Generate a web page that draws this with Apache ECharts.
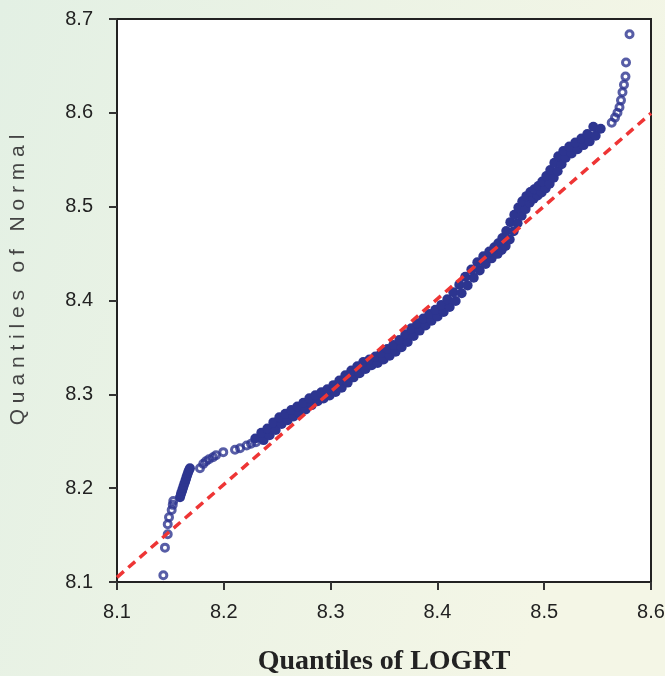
<!DOCTYPE html>
<html>
<head>
<meta charset="utf-8">
<script src="https://cdn.jsdelivr.net/npm/echarts@6/dist/echarts.min.js"></script>
<style>
html,body{margin:0;padding:0;}
#chart{width:665px;height:676px;}
</style>
</head>
<body>
<div id="chart"></div>
<script>
// ---- data ----
var xTicks = [8.1, 8.2, 8.3, 8.4, 8.5, 8.6];
var yTicks = [8.1, 8.2, 8.3, 8.4, 8.5, 8.6, 8.7];

var lowerTail = [
[8.1434,8.1072],[8.1449,8.1366],[8.1475,8.1509],[8.1475,8.1616],[8.1487,8.1690],[8.1512,8.1768],
[8.1522,8.1822],[8.1527,8.1864]
];

var lowerCluster = [
[8.1590,8.1904],[8.1599,8.1939],[8.1609,8.1971],[8.1618,8.2003],
[8.1627,8.2035],[8.1637,8.2067],[8.1646,8.2099],[8.1655,8.2131],[8.1665,8.2163],[8.1674,8.2190],
[8.1683,8.2213]
];

var lowerShoulder = [
[8.1777,8.2213],[8.1808,8.2259],[8.1833,8.2286],[8.1861,8.2309],[8.1899,8.2329],
[8.1927,8.2350],[8.1995,8.2384],[8.2105,8.2409],[8.2152,8.2425],[8.2214,8.2455],[8.2255,8.2473],
[8.2301,8.2489]
];

var centralBand = [
[8.2295,8.2530],[8.2373,8.2512],[8.2351,8.2591],[8.2429,8.2564],[8.2408,8.2636],[8.2486,8.2619],[8.2464,8.2701],[8.2542,8.2683],[8.2520,8.2756],[8.2598,8.2725],
[8.2576,8.2794],[8.2654,8.2764],[8.2632,8.2832],[8.2710,8.2800],[8.2688,8.2870],[8.2767,8.2839],[8.2745,8.2911],[8.2823,8.2885],[8.2801,8.2959],[8.2879,8.2927],
[8.2857,8.2991],[8.2935,8.2956],[8.2913,8.3021],[8.2991,8.2987],[8.2969,8.3053],[8.3047,8.3025],[8.3026,8.3098],[8.3104,8.3070],[8.3082,8.3147],[8.3160,8.3125],
[8.3138,8.3204],[8.3216,8.3181],[8.3194,8.3253],[8.3272,8.3226],[8.3250,8.3298],[8.3328,8.3271],[8.3306,8.3344],[8.3385,8.3309],[8.3363,8.3372],[8.3441,8.3334],
[8.3419,8.3403],[8.3497,8.3372],[8.3475,8.3441],[8.3553,8.3411],[8.3531,8.3483],[8.3609,8.3454],[8.3587,8.3525],[8.3665,8.3501],[8.3644,8.3580],[8.3722,8.3558],
[8.3700,8.3640],[8.3778,8.3622],[8.3756,8.3703],[8.3834,8.3679],[8.3812,8.3757],[8.3890,8.3733],[8.3868,8.3808],[8.3946,8.3784],[8.3924,8.3857],[8.4002,8.3830],
[8.3981,8.3902],[8.4059,8.3877],[8.4037,8.3953],[8.4115,8.3931],[8.4093,8.4013],[8.4171,8.3995],[8.4149,8.4087],[8.4227,8.4077],[8.4205,8.4169],[8.4283,8.4161],
[8.4261,8.4252],[8.4340,8.4243],[8.4318,8.4331],[8.4396,8.4320],[8.4374,8.4408],[8.4452,8.4390],[8.4430,8.4472],[8.4508,8.4449],[8.4486,8.4522],[8.4564,8.4497],
[8.4533,8.4568],[8.4602,8.4539],[8.4570,8.4611],[8.4639,8.4582],[8.4608,8.4666],[8.4677,8.4650],[8.4645,8.4741],[8.4714,8.4738],[8.4683,8.4835],[8.4751,8.4824],
[8.4720,8.4914],[8.4789,8.4903],[8.4758,8.4991],[8.4826,8.4974],[8.4795,8.5058],[8.4864,8.5041],[8.4833,8.5112],[8.4901,8.5084],[8.4870,8.5155],[8.4939,8.5120],
[8.4907,8.5186],[8.4976,8.5151],[8.4945,8.5220],[8.5014,8.5195],[8.4982,8.5269],[8.5051,8.5244],[8.5020,8.5326],[8.5089,8.5308],[8.5057,8.5390],[8.5126,8.5378],
[8.5095,8.5467],[8.5163,8.5453],[8.5132,8.5537],[8.5201,8.5521],[8.5179,8.5594],[8.5257,8.5567],[8.5235,8.5640],[8.5313,8.5612],[8.5291,8.5684],[8.5369,8.5656],
[8.5348,8.5726],[8.5426,8.5696],[8.5404,8.5774],[8.5482,8.5756],[8.5460,8.5851],[8.5529,8.5831]
];

var upperTail = [
[8.5632,8.5895],[8.5663,8.5949],[8.5686,8.6000],[8.5705,8.6059],[8.5719,8.6133],
[8.5733,8.6219],[8.5747,8.6299],[8.5761,8.6386],[8.5766,8.6536],[8.5799,8.6838]
];

var refLineX = [8.1, 8.6];
var refLineY = [8.105, 8.5995];

// ---- chart ----
var chart = echarts.init(document.getElementById('chart'), null, {renderer:'canvas'});
var font = '"Liberation Sans", Arial, sans-serif';
var ptColor = '#2d3590';
var sparsePoints = lowerTail.concat(lowerShoulder, upperTail);
var densePoints = lowerCluster.concat(centralBand);
var refLine = refLineX.map(function(x, i){ return [x, refLineY[i]]; });

var option = {
  animation: false,
  backgroundColor: {
    type: 'linear', x: 0, y: 0, x2: 1, y2: 0.3,
    colorStops: [
      {offset: 0, color: '#e3f0e4'},
      {offset: 1, color: '#f4f6e6'}
    ]
  },
  grid: {
    left: 117, right: 14, top: 19, bottom: 94,
    containLabel: false, outerBoundsMode: 'none',
    show: true, backgroundColor: '#ffffff', borderColor: '#222', borderWidth: 2
  },
  xAxis: {
    type: 'value', min: xTicks[0], max: xTicks[xTicks.length-1], interval: 0.1,
    name: 'Quantiles of LOGRT', nameLocation: 'middle', nameGap: 66,
    nameTextStyle: {fontFamily: '"Liberation Serif", "Times New Roman", serif', fontWeight: 'bold', fontSize: 28, color: '#222'},
    axisLine: {show: true, onZero: false, lineStyle: {color: '#222', width: 2}},
    axisTick: {show: true, inside: false, length: 8, lineStyle: {color: '#333', width: 2}},
    axisLabel: {margin: 20, fontSize: 20, fontFamily: font, color: '#222',
      formatter: function(v){ return v.toFixed(1); }},
    splitLine: {show: false}
  },
  yAxis: {
    type: 'value', min: yTicks[0], max: yTicks[yTicks.length-1], interval: 0.1,
    axisLine: {show: true, onZero: false, lineStyle: {color: '#222', width: 2}},
    axisTick: {show: true, inside: false, length: 8, lineStyle: {color: '#333', width: 2}},
    axisLabel: {margin: 24, fontSize: 20, fontFamily: font, color: '#222',
      formatter: function(v){ return v.toFixed(1); }},
    splitLine: {show: false}
  },
  graphic: [{
    type: 'text', rotation: Math.PI/2,
    x: 18, y: 280,
    style: {text: 'Q u a n t i l e s   o f   N o r m a l', fontSize: 21, fontFamily: font,
      fill: '#444', align: 'center', verticalAlign: 'middle'}
  }],
  series: [{
    type: 'scatter',
    data: sparsePoints,
    symbol: 'circle',
    symbolSize: 7,
    itemStyle: {color: 'rgba(0,0,0,0)', borderColor: ptColor, borderWidth: 3},
    z: 2
  }, {
    type: 'scatter',
    data: densePoints,
    symbol: 'circle',
    symbolSize: 10,
    itemStyle: {color: ptColor, borderWidth: 0, opacity: 1},
    z: 2
  }, {
    type: 'line',
    data: refLine,
    showSymbol: false,
    symbol: 'none',
    lineStyle: {color: '#ee3535', width: 3.5, type: [9, 6]},
    z: 3
  }]
};
chart.setOption(option);
</script>
</body>
</html>
